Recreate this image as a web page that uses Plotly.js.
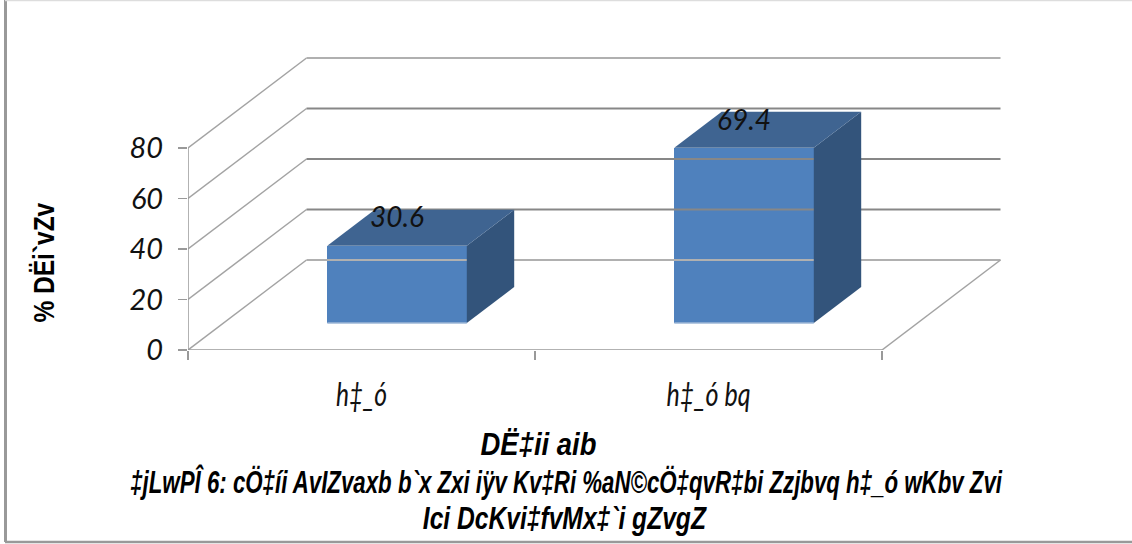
<!DOCTYPE html>
<html>
<head>
<meta charset="utf-8">
<script src="https://cdn.plot.ly/plotly-3.0.1.min.js"></script>
<style>html,body{margin:0;padding:0;background:#fff}#chart{width:1132px;height:544px}</style>
</head>
<body>
<div id="chart"></div>
<script>
// Data
var categories = ['h‡_ó', 'h‡_ó bq'];
var values = [30.6, 69.4];
var valueTicks = [0, 20, 40, 60, 80];
var yTitle = '% DËi`vZv';
var xTitle = 'DË‡ii aib';
var captionLines = ['‡jLwPÎ 6: cÖ‡íi AvIZvaxb b`x Zxi iÿv Kv‡Ri %aN©cÖ‡qvR‡bi Zzjbvq h‡_ó wKbv Zvi', 'Ici DcKvi‡fvMx‡`i gZvgZ'];

// Layout geometry (pixels of the window)
var W = 1132, H = 544;
var M = {l: 188, r: 120, t: 40, b: 194};
var pxPerCat = 347, pxPerVal = 2.525;
var xMin = -0.5, xEnd = 1.5, xMax = xMin + (W - M.l - M.r) / pxPerCat;
var yMax = (H - M.t - M.b) / pxPerVal;
// Oblique depth of the floor in axis units
var depthX = 118.5 / pxPerCat, depthY = 90 / pxPerVal;
var barFront = 0.3, barBack = 0.7, barWidth = 0.402;
function px(c, d) { return c + d * depthX; }
function py(v, d) { return v + d * depthY; }

var traces = [];
function line(xs, ys, color, width) {
  traces.push({x: xs, y: ys, mode: 'lines', line: {color: color, width: width}, hoverinfo: 'skip', showlegend: false, cliponaxis: false});
}
// Walls: diagonal plus back line for every tick value
valueTicks.forEach(function (v, i) {
  var edge = (i === 0 || i === valueTicks.length - 1);
  line([xMin, px(xMin, 1)], [v, py(v, 1)], '#a3a3a3', 1.5);
  line([px(xMin, 1), px(xEnd, 1)], [py(v, 1), py(v, 1)], edge ? '#b0b0b0' : '#878787', 2);
});
// Floor right edge, front edge, value axis line
line([xEnd, px(xEnd, 1)], [0, py(0, 1)], '#a3a3a3', 1.5);
line([xMin, xEnd], [0, 0], '#999999', 1.5);
line([xMin, xMin], [0, valueTicks[valueTicks.length - 1]], '#999999', 1.5);

// Bar faces
categories.forEach(function (c, i) {
  var v = values[i], l = i - barWidth / 2, r = i + barWidth / 2;
  traces.push({x: [px(r, barFront), px(r, barBack), px(r, barBack), px(r, barFront), px(r, barFront)],
    y: [py(0, barFront), py(0, barBack), py(v, barBack), py(v, barFront), py(0, barFront)],
    mode: 'lines', fill: 'toself', fillcolor: '#33547B', line: {color: '#33547B', width: 0}, hoverinfo: 'skip', showlegend: false});
  traces.push({x: [px(l, barFront), px(r, barFront), px(r, barBack), px(l, barBack), px(l, barFront)],
    y: [py(v, barFront), py(v, barFront), py(v, barBack), py(v, barBack), py(v, barFront)],
    mode: 'lines', fill: 'toself', fillcolor: '#3F6491', line: {color: '#3F6491', width: 0}, hoverinfo: 'skip', showlegend: false});
});
// Front faces
traces.push({type: 'bar', x: categories.map(function (c, i) { return px(i, barFront); }), y: values,
  base: values.map(function () { return py(0, barFront); }), width: barWidth,
  marker: {color: '#4F81BD', line: {width: 0}}, hoverinfo: 'skip', showlegend: false});
// Lighter lower edge of the bars
categories.forEach(function (c, i) {
  line([px(i - barWidth / 2, barFront), px(i + barWidth / 2, barFront)], [py(0, barFront), py(0, barFront)], '#9DB7D7', 1.5);
});
// Value labels
traces.push({x: categories.map(function (c, i) { return px(i, barFront); }),
  y: values.map(function (v) { return py(v, barFront) + 10; }),
  text: values.map(function (v) { return v.toFixed(1); }), mode: 'text', textposition: 'middle center',
  textfont: {family: 'Lato, sans-serif', size: 28, color: '#111111', style: 'italic'},
  hoverinfo: 'skip', showlegend: false, cliponaxis: false});

var titleFont = {family: '"Liberation Sans", sans-serif', size: 31, color: '#000000', weight: 700, style: 'italic'};
function note(text, cx, cy, font, angle) {
  return {text: text, xref: 'paper', yref: 'paper', xanchor: 'center', yanchor: 'middle', showarrow: false,
    x: (cx - M.l) / (W - M.l - M.r), y: 1 - (cy - M.t) / (H - M.t - M.b), font: font, textangle: angle || 0};
}
var annotations = [
  note(xTitle, 538, 444, titleFont),
  note(captionLines[0], 566, 482, titleFont),
  note(captionLines[1], 565, 518, titleFont),
  note(yTitle, 43, 263, {family: titleFont.family, size: 30, color: '#000000', weight: 700}, -90)
];
var annotationWidths = [116, 873, 284, 120];
var categoryWidths = [51, 84];

function frame(x0, y0, x1, y1, color, w) {
  return {type: 'line', xref: 'paper', yref: 'paper', layer: 'below',
    x0: (x0 - M.l) / (W - M.l - M.r), x1: (x1 - M.l) / (W - M.l - M.r),
    y0: 1 - (y0 - M.t) / (H - M.t - M.b), y1: 1 - (y1 - M.t) / (H - M.t - M.b), line: {color: color, width: w}};
}
var layout = {
  width: W, height: H, margin: M, paper_bgcolor: '#ffffff', plot_bgcolor: 'rgba(0,0,0,0)', showlegend: false,
  font: {family: 'Lato, sans-serif', color: '#111111'},
  xaxis: {type: 'linear', range: [xMin, xMax], tickmode: 'array', tickvals: [0, 1], ticktext: categories, ticks: '', showgrid: false, zeroline: false, showline: false,
    ticklabelstandoff: 23,
    tickfont: {family: 'Lato, sans-serif', size: 32, style: 'italic', color: '#111111'},
    minor: {tickmode: 'array', tickvals: [-0.5, 0.5, 1.5], ticks: 'outside', ticklen: 9, tickcolor: '#999999', tickwidth: 1.5, showgrid: false}},
  yaxis: {range: [0, yMax], tickmode: 'array', tickvals: valueTicks, ticks: 'outside', ticklen: 9, tickcolor: '#999999', tickwidth: 1.5, showgrid: false, zeroline: false, showline: false,
    ticklabelstandoff: 9,
    tickfont: {family: 'Lato, sans-serif', size: 29, style: 'italic', color: '#111111'}},
  annotations: annotations,
  shapes: [frame(5.5, 0, 5.5, 542, '#999999', 3), frame(5, 542, 1132, 542, '#999999', 2.5), frame(5, 0.5, 1132, 0.5, '#dddddd', 1.5)],
  bargap: 0
};
// The reference text is horizontally condensed: squeeze each real text element to its measured width
function squeeze(el, width) {
  var b = el.getBBox(), cx = b.x + b.width / 2, s = width / b.width;
  var old = el.getAttribute('transform') || '';
  el.setAttribute('transform', old + ' translate(' + cx + ',0) scale(' + s + ',1) translate(' + (-cx) + ',0)');
}
Plotly.newPlot('chart', traces, layout, {displayModeBar: false, staticPlot: true}).then(function (gd) {
  gd.querySelectorAll('.annotation-text').forEach(function (el, i) { squeeze(el, annotationWidths[i]); });
  gd.querySelectorAll('.xtick text').forEach(function (el, i) { if (i < categoryWidths.length) squeeze(el, categoryWidths[i]); });
});
</script>
</body>
</html>
